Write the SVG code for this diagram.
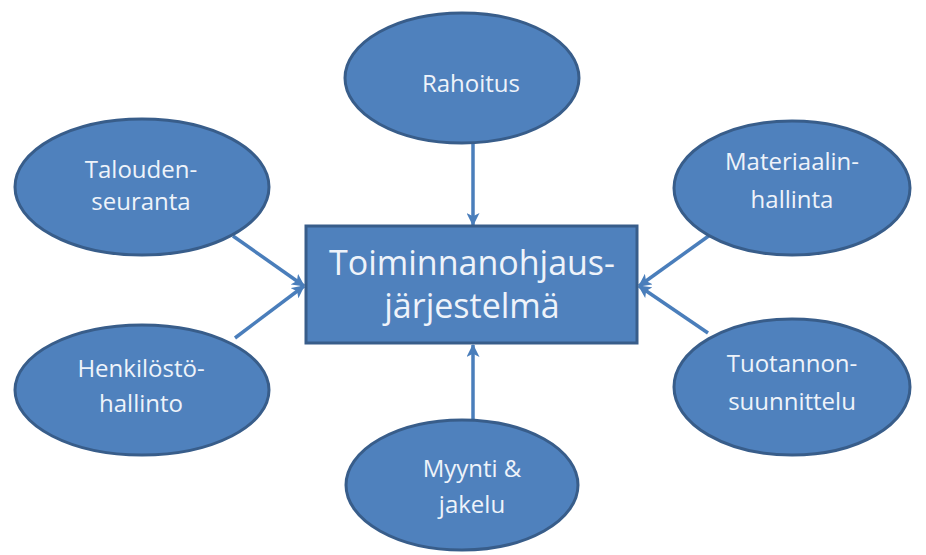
<svg xmlns="http://www.w3.org/2000/svg" width="926" height="555" viewBox="0 0 926 555">
  <style>
    .node { fill: #4f81bd; stroke: #385d8a; stroke-width: 3; }
    .lbl { font-family: "Open Sans", "Liberation Sans", sans-serif; fill: #eef3fa; text-anchor: middle; }
    .small { font-size: 24px; }
    .big { font-size: 34px; }
    .conn { stroke: #4a7ebb; stroke-width: 3.5; fill: none; marker-end: url(#head); }
  </style>
  <defs>
    <marker id="head" markerUnits="userSpaceOnUse" viewBox="0 0 12 12" refX="11" refY="6" markerWidth="13" markerHeight="13" orient="auto">
      <path d="M0,0 L12,6 L0,12 L3,6 Z" fill="#4a7ebb"/>
    </marker>
  </defs>
  <rect width="926" height="555" fill="#ffffff"/>

  <g id="connectors">
    <line class="conn" x1="473" y1="144" x2="473" y2="225"/>
    <line class="conn" x1="473" y1="419" x2="473" y2="345"/>
    <line class="conn" x1="233" y1="236" x2="304" y2="286"/>
    <line class="conn" x1="235" y1="338" x2="304" y2="286"/>
    <line class="conn" x1="710" y1="235" x2="639" y2="286"/>
    <line class="conn" x1="708" y1="333" x2="639" y2="286"/>
  </g>

  <g id="center">
    <rect class="node" x="306" y="226" width="331" height="117"/>
    <text class="lbl big" x="472" y="275">Toiminnanohjaus-</text>
    <text class="lbl big" x="472" y="318">järjestelmä</text>
  </g>

  <g id="rahoitus">
    <ellipse class="node" cx="462" cy="78" rx="117" ry="65"/>
    <text class="lbl small" x="471" y="92">Rahoitus</text>
  </g>

  <g id="taloudenseuranta">
    <ellipse class="node" cx="142" cy="187" rx="127" ry="68"/>
    <text class="lbl small" x="141" y="178">Talouden-</text>
    <text class="lbl small" x="141" y="210">seuranta</text>
  </g>

  <g id="henkilostohallinto">
    <ellipse class="node" cx="142" cy="390" rx="127" ry="65"/>
    <text class="lbl small" x="141" y="377">Henkilöstö-</text>
    <text class="lbl small" x="141" y="412">hallinto</text>
  </g>

  <g id="materiaalinhallinta">
    <ellipse class="node" cx="792" cy="188" rx="118" ry="67"/>
    <text class="lbl small" x="792" y="170">Materiaalin-</text>
    <text class="lbl small" x="792" y="208">hallinta</text>
  </g>

  <g id="tuotannonsuunnittelu">
    <ellipse class="node" cx="792" cy="387" rx="118" ry="68"/>
    <text class="lbl small" x="792" y="372">Tuotannon-</text>
    <text class="lbl small" x="792" y="410">suunnittelu</text>
  </g>

  <g id="myyntijakelu">
    <ellipse class="node" cx="462" cy="485" rx="116" ry="65"/>
    <text class="lbl small" x="472" y="477">Myynti &amp;</text>
    <text class="lbl small" x="472" y="513">jakelu</text>
  </g>
</svg>
